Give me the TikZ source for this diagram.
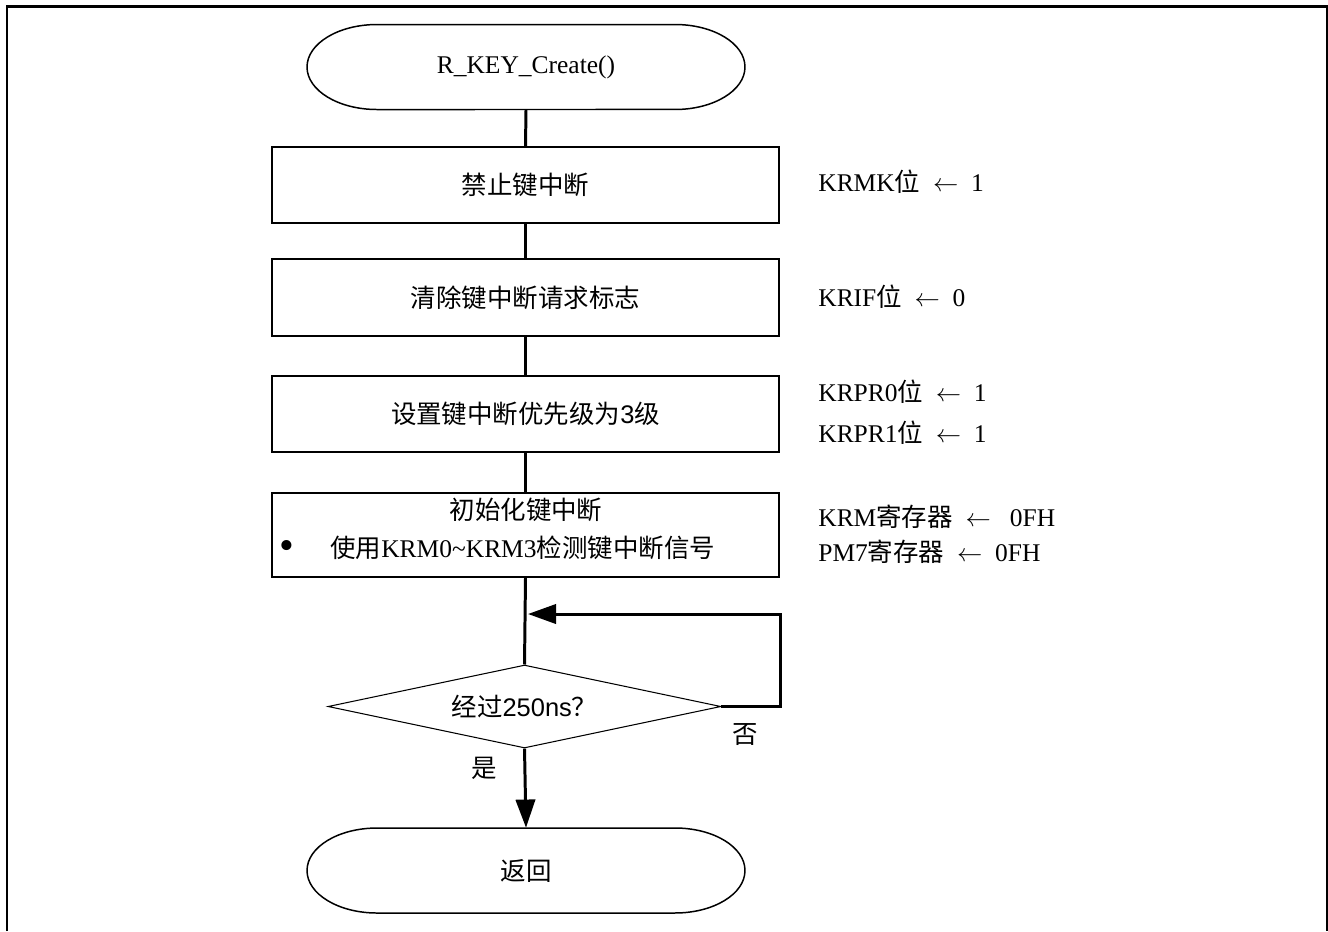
\documentclass[tikz,border=0pt]{standalone}
\usepackage{fontspec}
\setmainfont{Liberation Serif}
\newfontfamily\cjk{Noto Sans CJK SC}
\newfontfamily\arial{Liberation Sans}
\usetikzlibrary{shapes.geometric}
\usetikzlibrary{arrows.meta}
\tikzset{
  procbox/.style={draw, line width=0.85pt, minimum width=10.14cm, inner sep=0pt},
  termnode/.style={minimum width=8.76cm, minimum height=1.7cm, inner sep=0pt},
  decide/.style={draw, diamond, aspect=4.73, line width=0.6pt, minimum width=7.86cm, minimum height=1.66cm, inner sep=0pt},
  flow/.style={line width=1.7pt},
  flowarrow/.style={flow, -{Triangle[length=16pt, width=11pt]}},
  note/.style={anchor=west, inner sep=0pt}
}
\newcommand{\larr}{\enspace$\leftarrow$\enspace}

\begin{document}
\begin{tikzpicture}[x=0.02cm, y=-0.02cm, every node/.append style={font=\fontsize{14.5}{21.5}\selectfont}]
    \useasboundingbox (0,0) rectangle (1328,931);
    \draw[line width=1.7pt] (7,931) -- (7,6) -- (1327,6) -- (1327,931);
    % terminals
    \node[termnode] (start) at (526,67) {R\_KEY\_Create()};
    \node[termnode] (stop) at (526,870.5) {\cjk 返回};
    \foreach \cy in {67,870.5}
      \draw[line width=0.85pt] (377,\cy-42.5) -- (675,\cy-42.5)
        arc[start angle=90, end angle=-90, x radius=1.4cm, y radius=0.85cm]
        -- (377,\cy+42.5)
        arc[start angle=270, end angle=90, x radius=1.4cm, y radius=0.85cm] -- cycle;
    % process boxes
    \node[procbox, minimum height=1.52cm] (b1) at (525.5,185) {\cjk 禁止键中断};
    \node[procbox, minimum height=1.54cm] (b2) at (525.5,297.5) {\cjk 清除键中断请求标志};
    \node[procbox, minimum height=1.52cm] (b3) at (525.5,414) {{\cjk 设置键中断优先级为}{\arial 3}{\cjk 级}};
    \node[procbox, minimum height=1.68cm] (b4) at (525.5,535) {};
    \node (b4a) at (526,510) {\cjk 初始化键中断};
    \node (b4bul) at (287,550) {\fontsize{24}{24}\selectfont •};
    \node[note] (b4b) at (330,548) {{\cjk 使用}KRM0\char`~KRM3{\cjk 检测键中断信号}};
    % decision
    \node[decide] (dia) at (524.5,706.5) {{\cjk 经过}{\arial 250ns}{\cjk ？}};
    \coordinate (loopin) at (528,614);
    \node (no) at (745,735) {\cjk 否};
    \node (yes) at (484,768) {\cjk 是};
    % notes
    \node[note] (n1) at (818,182) {KRMK{\cjk 位}\larr 1};
    \node[note] (n2) at (818,297) {KRIF{\cjk 位}\larr 0};
    \node[note] (n3) at (818,392) {KRPR0{\cjk 位}\larr 1};
    \node[note] (n4) at (818,433) {KRPR1{\cjk 位}\larr 1};
    \node[note] (n5) at (818,517) {KRM{\cjk 寄存器}\larr\ 0FH};
    \node[note] (n6) at (818,552) {PM7{\cjk 寄存器}\larr 0FH};
    % connectors
    \draw[flow] (start.south) -- (b1.north);
    \draw[flow] (b1.south) -- (b2.north);
    \draw[flow] (b2.south) -- (b3.north);
    \draw[flow] (b3.south) -- (b4.north);
    \draw[flow] (b4.south) -- (dia.north);
    \draw[flowarrow] (dia.east) -- (780,706.5) |- (loopin);
    \draw[flowarrow] (dia.south) -- (stop.north);
\end{tikzpicture}
\end{document}
